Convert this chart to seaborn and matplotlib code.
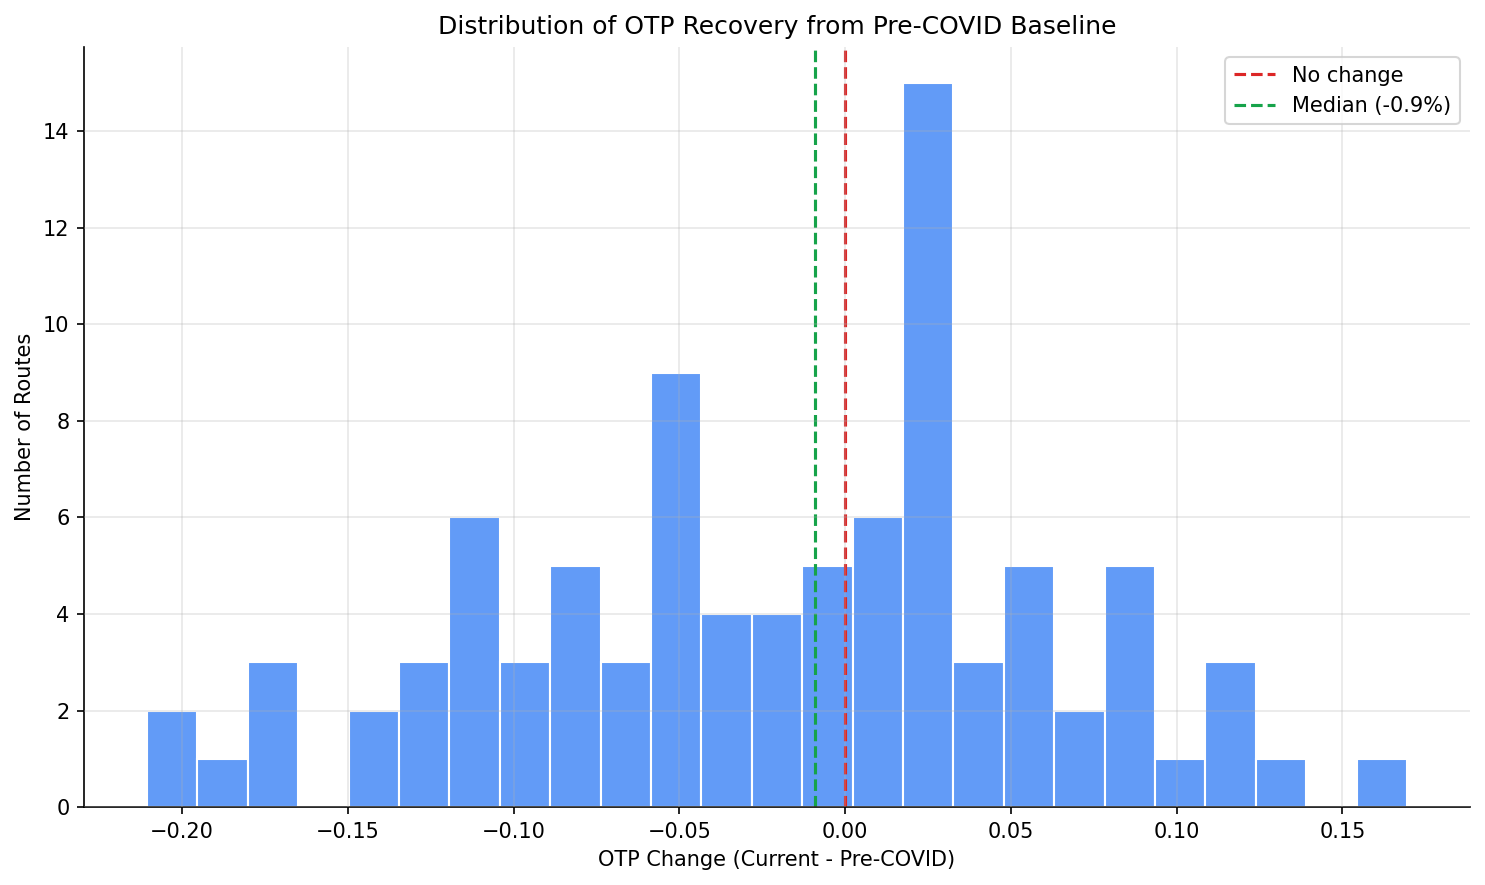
import numpy as np
import pandas as pd
import seaborn as sns
import matplotlib.pyplot as plt

# histogram: 25 equal bins between min and max change
bin_lo = -0.2106
bin_hi = 0.1695
counts = [2, 1, 3, 0, 2, 3, 6, 3, 5, 3, 9, 4, 4, 5, 6, 15, 3, 5, 2, 5, 1, 3, 1, 0, 1]
median_change = -0.009

edges = np.linspace(bin_lo, bin_hi, len(counts) + 1)
centers = (edges[:-1] + edges[1:]) / 2
df = pd.DataFrame({"otp_change": centers, "routes": counts})

plt.rcParams['font.family'] = ['DejaVu Sans']

fig, ax = plt.subplots(figsize=(9.9, 5.9), dpi=150)
sns.histplot(data=df, x="otp_change", weights="routes", bins=len(counts),
             binrange=(bin_lo, bin_hi),
             color="#3B82F6", alpha=0.8, edgecolor="white", linewidth=1, ax=ax)

ax.axvline(0, color="#dc2626", linestyle="--", linewidth=1.5, label="No change")
ax.axvline(median_change, color="#16a34a", linestyle="--", linewidth=1.5,
           label=f"Median ({median_change * 100:.1f}%)")

ax.set_title("Distribution of OTP Recovery from Pre-COVID Baseline", fontsize=12)
ax.set_xlabel("OTP Change (Current - Pre-COVID)")
ax.set_ylabel("Number of Routes")
ax.grid(True, alpha=0.3)
ax.set_axisbelow(False)
ax.spines["top"].set_visible(False)
ax.spines["right"].set_visible(False)
ax.legend(loc="upper right")

fig.subplots_adjust(left=0.0566, right=0.9899, top=0.9469, bottom=0.0881)
plt.savefig("out.png", dpi=150)
